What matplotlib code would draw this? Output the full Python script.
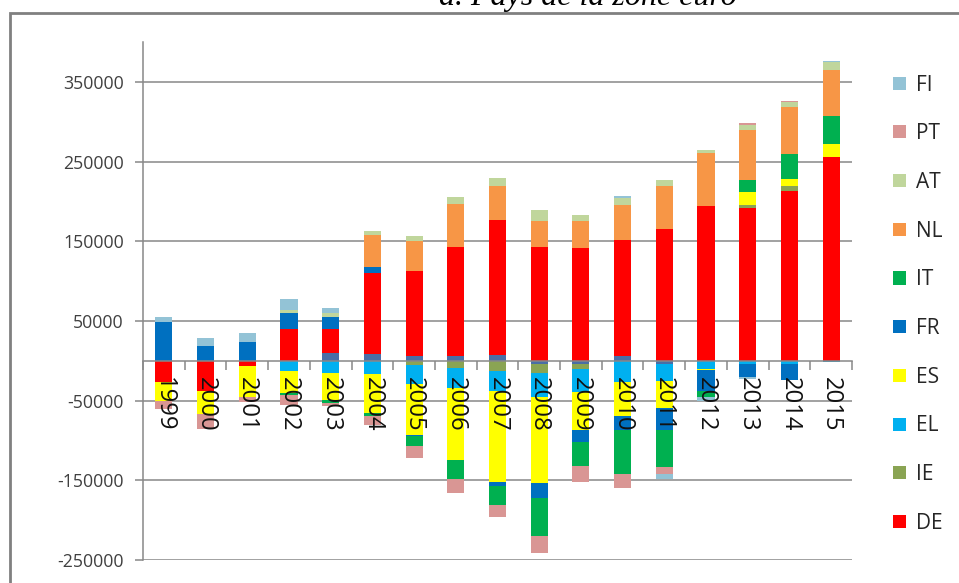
import numpy as np
import matplotlib
matplotlib.use("Agg")
import matplotlib.pyplot as plt
from matplotlib.patches import Patch, Rectangle

# Soldes courants, millions d'euros
annees = ["1999", "2000", "2001", "2002", "2003", "2004", "2005", "2006", "2007",
          "2008", "2009", "2010", "2011", "2012", "2013", "2014", "2015"]

BE = [0, 0, 0, 0, 9700, 8400, 5400, 5400, 7500, -4200, -4200, 5400, -4200, 0, 0, 0, 0]
DE = [-27000, -37700, -7000, 40200, 30500, 101200, 106700, 137600, 169000,
      142700, 141400, 145600, 165300, 194500, 191300, 212500, 255700]
IE = [0, 0, 0, 0, 0, 0, -5400, -9200, -12500, -10900, -5900, 0, 0, 0, 4500, 6300, 0]
EL = [0, 0, 0, -12500, -15500, -16300, -23800, -25100, -25100, -30900, -29600,
      -27000, -20900, -10400, -4200, -4000, -1000]
ES = [-23000, -29300, -39000, -28000, -33500, -49300, -63600, -90400, -114200,
      -107500, -46900, -42700, -34300, -600, 15600, 9600, 16300]
FR = [48200, 18800, 23800, 19700, 14200, 8000, -1600, 0, -5000, -19200, -15800,
      -16800, -27600, -26500, -16700, -20000, 0]
IT = [0, 0, 0, -3000, -4000, -3300, -12100, -23800, -24200, -46900, -30100,
      -55600, -45800, -8300, 15100, 31000, 35500]
NL = [0, 0, 0, 0, 0, 40200, 38400, 53200, 42300, 32200, 33500, 44700, 54400,
      65800, 63200, 58500, 57700]
AT = [0, 0, 0, 4200, 5400, 5000, 6300, 9200, 10400, 14200, 7900, 8000, 7100,
      4600, 6300, 6300, 9600]
PT = [-10000, -19000, -6000, -12500, -4000, -12000, -15800, -17600, -15500,
      -21700, -19300, -17900, -9600, 0, 2500, 1300, 0]
FI = [6300, 9300, 10900, 13400, 6300, 0, 0, 0, 0, 0, 0, 3300, -5400, -4200,
      -2000, 0, 1600]

series = [("BE", BE), ("DE", DE), ("IE", IE), ("EL", EL), ("ES", ES), ("FR", FR),
          ("IT", IT), ("NL", NL), ("AT", AT), ("PT", PT), ("FI", FI)]
couleurs = {"BE": "#4a6ea6", "DE": "#ff0000", "IE": "#8aa453", "EL": "#00b0f0",
            "ES": "#ffff00", "FR": "#0070c0", "IT": "#00b050", "NL": "#f79646",
            "AT": "#c0d69c", "PT": "#d99694", "FI": "#93c3d6"}
legende = ["FI", "PT", "AT", "NL", "IT", "FR", "ES", "EL", "IE", "DE"]

yticks = [-250000, -150000, -50000, 50000, 150000, 250000, 350000]
yticklabels = ["-250000", "-150000", "-50000", "50000", "150000", "250000", "350000"]

plt.rcParams['font.family'] = ['Open Sans', 'DejaVu Sans']
plt.rcParams['axes.unicode_minus'] = False

W, H = 959, 583
fig = plt.figure(figsize=(W / 100, H / 100), dpi=100)
ax = fig.add_axes([143 / W, 1 - 560 / H, (852 - 143) / W, (560 - 42) / H])

x = np.arange(len(annees))
pos = np.zeros(len(annees))
neg = np.zeros(len(annees))
for nom, vals in series:
    v = np.array(vals, dtype=float)
    bas = np.where(v >= 0, pos, neg)
    ax.bar(x, v, bottom=bas, width=0.41, color=couleurs[nom], linewidth=0, zorder=1)
    pos = pos + np.where(v > 0, v, 0)
    neg = neg + np.where(v < 0, v, 0)

gris = "#888888"
ax.set_xlim(-0.5, len(annees) - 0.5)
ax.set_ylim(-250000, 400000)
ax.set_yticks(yticks)
ax.set_yticklabels(yticklabels)
# quadrillage sous les barres, étiquettes au-dessus
for yt in yticks:
    ax.axhline(yt, color=gris, linewidth=1.1, zorder=0.5)

for s in ["top", "right"]:
    ax.spines[s].set_visible(False)
ax.spines['left'].set_color(gris)
ax.spines['left'].set_linewidth(1.1)
ax.spines['bottom'].set_position(('data', 0))
ax.spines['bottom'].set_color(gris)
ax.spines['bottom'].set_linewidth(1.1)

ax.set_xticks(x)
ax.set_xticklabels(annees, rotation=270, fontsize=17.2, color="#111111")
ax.set_xticks(np.arange(-0.5, len(annees), 1), minor=True)
ax.tick_params(axis='x', which='major', length=0, pad=12)
ax.tick_params(axis='x', which='minor', length=6.5, width=1.1, color=gris, direction='out')
ax.tick_params(axis='y', length=5.8, width=1.1, color=gris, labelsize=12.8,
               labelcolor="#404040", pad=8)
for t in ax.get_xticklabels():
    t.set_va('top')

poignees = [Patch(facecolor=couleurs[n], edgecolor='none') for n in legende]
fig.legend(poignees, legende, loc='upper left', bbox_to_anchor=(893 / W, 1 - 74.5 / H),
           frameon=False, fontsize=15, borderpad=0, borderaxespad=0,
           handlelength=0.6, handleheight=0.6, handletextpad=0.5,
           labelspacing=1.33, labelcolor="#262626")

# cadre du graphique
fig.patches.append(Rectangle((10 / W, -0.1), 1.2, 1.1 - 13 / H, transform=fig.transFigure,
                             fill=False, edgecolor="#808080", linewidth=2))

fig.text(588 / W, 1 - 5 / H, "a. Pays de la zone euro", ha='center', va='baseline',
         fontsize=23, style='italic', family='Liberation Serif')

fig.savefig("out.png", dpi=100)
